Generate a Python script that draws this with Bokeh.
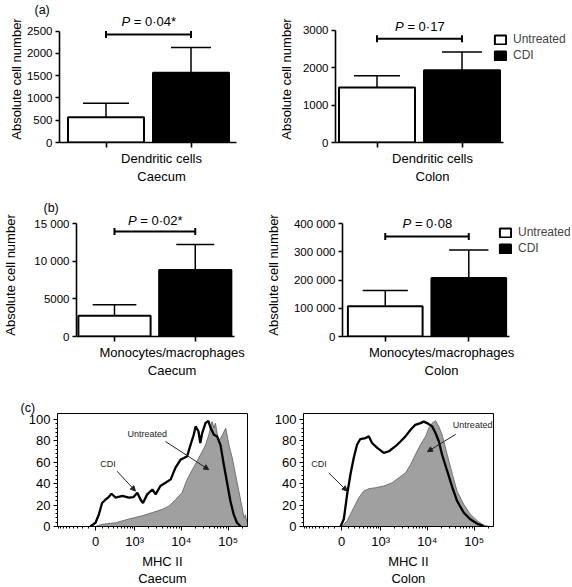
import numpy as np
from bokeh.plotting import figure
from bokeh.layouts import row, column
from bokeh.models import (Range1d, FixedTicker, CustomJSTickFormatter, Legend, LegendItem,
                          Arrow, NormalHead, Title)
from bokeh.core.properties import value
from bokeh.embed import file_html
from bokeh.resources import INLINE

FONT = "Liberation Sans"

# ---------------- data ----------------
groups = ["Untreated", "CDI"]
bar_colors = ["white", "black"]

dc_caecum_mean = [565, 1565]
dc_caecum_err = [315, 565]
dc_colon_mean = [1470, 1930]
dc_colon_err = [315, 490]
mm_caecum_mean = [2760, 8860]
mm_caecum_err = [1470, 3380]
mm_colon_mean = [107000, 208000]
mm_colon_err = [56000, 99000]

p_values = ["0·04*", "0·17", "0·02*", "0·08"]
cell_types = ["Dendritic cells", "Monocytes/macrophages"]
tissues = ["Caecum", "Colon"]
panel_tags = ["(a)", "(b)", "(c)"]

dc_caecum_ticks = [0, 500, 1000, 1500, 2000, 2500]
dc_caecum_ticklabels = ["0", "500", "1000", "1500", "2000", "2500"]
dc_colon_ticks = [0, 1000, 2000, 3000]
dc_colon_ticklabels = ["0", "1000", "2000", "3000"]
mm_caecum_ticks = [0, 5000, 10000, 15000]
mm_caecum_ticklabels = ["0", "5000", "10 000", "15 000"]
mm_colon_ticks = [0, 100000, 200000, 300000, 400000]
mm_colon_ticklabels = ["0", "100 000", "200 000", "300 000", "400 000"]

# MHC II histograms (x in logicle display units, y in % of max)
cae_cdi_x = [-0.11, 0.0, 0.07, 0.14, 0.21, 0.28, 0.34, 0.43, 0.57, 0.71, 0.81, 0.89, 0.96, 1.01,
             1.10, 1.21, 1.28, 1.38, 1.49, 1.60, 1.70, 1.81, 1.88, 1.95, 2.02, 2.09, 2.13, 2.19,
             2.23, 2.27, 2.34, 2.40, 2.45, 2.52, 2.59, 2.66, 2.73, 2.80, 2.87, 2.94, 3.01, 3.09]
cae_cdi_y = [0, 3.5, 11, 22, 25, 27.5, 30.6, 27, 28.5, 27, 27.5, 31.5, 25, 22,
             30, 34.6, 30, 37.8, 40.8, 44, 54.8, 62.5, 64, 65.6, 76, 85.7, 93.5, 89,
             78, 87.3, 96.5, 98.7, 92, 85.7, 84, 76, 57.8, 40.8, 23.8, 11.4, 3.5, 0]
cae_unt_x = [0.0, 0.14, 0.43, 0.71, 0.99, 1.21, 1.42, 1.56, 1.70, 1.84, 1.95, 2.06, 2.16, 2.27,
             2.34, 2.41, 2.48, 2.52, 2.55, 2.62, 2.70, 2.77, 2.84, 2.91, 2.98, 3.05, 3.12, 3.16,
             3.19, 3.23]
cae_unt_y = [0, 2, 3.5, 7, 10, 13, 16, 19, 25, 31.5, 44, 53, 61, 70,
             76, 85.5, 98, 92, 96.5, 79.5, 85.5, 92, 76, 64, 48.5, 33, 17.6, 8,
             11, 2]
col_cdi_x = [-0.02, 0.05, 0.12, 0.19, 0.26, 0.33, 0.40, 0.51, 0.58, 0.65, 0.76, 0.90, 1.01, 1.15,
             1.26, 1.36, 1.47, 1.57, 1.68, 1.75, 1.82, 1.93, 2.00, 2.07, 2.14, 2.25, 2.36, 2.46,
             2.60, 2.74, 2.89, 3.03]
col_cdi_y = [0, 7, 30, 48.6, 64, 76.4, 81.7, 82.6, 84.2, 78, 73.4, 68.7, 70.3, 75,
             79.6, 84.2, 90.3, 95, 96.6, 98, 96.6, 93.5, 87.3, 79.6, 67, 51.7, 36.2, 23.8,
             13, 6.8, 2.5, 0.3]
col_unt_x = [0.01, 0.12, 0.26, 0.37, 0.47, 0.58, 0.72, 0.90, 1.08, 1.22, 1.36, 1.47, 1.57, 1.68,
             1.79, 1.86, 1.93, 2.00, 2.07, 2.14, 2.25, 2.36, 2.46, 2.60, 2.74, 2.89, 3.03, 3.17]
col_unt_y = [0, 5.3, 17.6, 27, 33, 35.3, 36.2, 37.8, 40.9, 45.5, 50, 57.8, 67, 76.4,
             84.2, 92, 96.6, 98.7, 93.5, 85.7, 67, 48.6, 33, 20.7, 11.4, 5.3, 1, 0]

mhc_major_values = [0, 1e3, 1e4, 1e5]
mhc_major_labels = ["0", "10³", "10⁴", "10⁵"]
mhc_minor_values = ([-v for v in range(100, 1000, 100)] + list(range(100, 1000, 100)) +
                    list(range(2000, 10000, 1000)) + list(range(20000, 100000, 10000)) + [200000])
pct_ticks = [0, 20, 40, 60, 80, 100]
pct_minor = [v for v in range(0, 101, 4) if v % 20 != 0]

# ---------------- styling ----------------
BAR_TICK = "11.5px"
LABEL = 13
PSIZE = 13
LEG = "12px"

EM = {" ": 0.278, "/": 0.278, "C": 0.722, "D": 0.722, "H": 0.722, "I": 0.278, "M": 0.833,
      "P": 0.667, "a": 0.556, "c": 0.5, "d": 0.556, "e": 0.556, "g": 0.556, "h": 0.556,
      "i": 0.222, "l": 0.222, "m": 0.833, "n": 0.556, "o": 0.556, "p": 0.556, "r": 0.333,
      "s": 0.5, "t": 0.278, "u": 0.556, "y": 0.5, "=": 0.584, "·": 0.278, "*": 0.389,
      "(": 0.333, ")": 0.333}


def text_w(s, size):
    return sum(EM.get(c, 0.556) for c in s) * size


def label_formatter(pos, labels):
    return CustomJSTickFormatter(args=dict(pos=list(pos), labels=list(labels)), code="""
        for (let i = 0; i < pos.length; i++) { if (Math.abs(tick - pos[i]) < 1e-6) { return labels[i]; } }
        return '';""")


def base_fig(ox, oy, W, H, fl, fr, ft, fb, xr, yr):
    p = figure(width=W, height=H, x_range=xr, y_range=yr, output_backend="svg",
               toolbar_location=None, min_border_left=fl - ox, min_border_right=ox + W - fr,
               min_border_top=ft - oy, min_border_bottom=oy + H - fb)
    p.xgrid.visible = False
    p.ygrid.visible = False
    p.outline_line_color = None
    p.background_fill_color = "white"
    p.border_fill_color = "white"
    for ax in (p.xaxis[0], p.yaxis[0]):
        ax.major_label_text_font = FONT
        ax.axis_label_text_font = FONT
        ax.axis_label_text_font_style = "normal"
        ax.axis_label_text_font_size = f"{LABEL}px"
        ax.axis_label_text_color = "black"
        ax.major_label_text_color = "black"
        ax.axis_line_color = "black"
        ax.major_tick_line_color = "black"
        ax.minor_tick_line_color = None
        ax.major_tick_in = 0
        ax.major_tick_out = 4
        ax.major_label_standoff = 3
    return p


def add_tag(p, tag, fl_local, shift):
    p.title.text = tag
    p.title.align = "left"
    p.title.offset = 21 - fl_local + shift
    p.title.standoff = -2
    p.title.text_font = FONT
    p.title.text_font_size = "12.5px"
    p.title.text_font_style = "normal"
    p.title.text_color = "black"


def add_bottom_title(p, text, center_local, fl_local, standoff, shift):
    w = text_w(text, LABEL)
    t = Title(text=text, align="left", offset=center_local - w / 2 - fl_local + shift,
              standoff=standoff, text_font=FONT, text_font_size=f"{LABEL}px",
              text_font_style="normal", text_color="black")
    p.add_layout(t, "below")


def bar_panel(ox, oy, W, H, fl, fr, ft, fb, c0, unit, axis_end, top_px, ymax, yticks, ylabels,
              means, errs, pval, bracket_px, ptext_px, cell, tissue, ylab_standoff,
              title_standoffs, tag=None, legend_at=None):
    yper = ymax / (fb - top_px)
    xr = Range1d((fl - c0) / unit, (fr - c0) / unit)
    yr = Range1d(0, (fb - ft) * yper)
    p = base_fig(ox, oy, W, H, fl, fr, ft, fb, xr, yr)
    for ax in (p.xaxis[0], p.yaxis[0]):
        ax.axis_line_width = 1.6
        ax.major_tick_line_width = 1.6
    xs = list(range(len(groups)))
    r = p.vbar(x=xs, top=means, bottom=0, width=76 / unit, fill_color=bar_colors,
               line_color="black", line_width=2)
    tops = [m + e for m, e in zip(means, errs)]
    p.segment(x0=xs, y0=means, x1=xs, y1=tops, line_color="black", line_width=1.5)
    half = [23 / unit, 20 / unit]
    p.segment(x0=[x - h for x, h in zip(xs, half)], y0=tops,
              x1=[x + h for x, h in zip(xs, half)], y1=tops, line_color="black", line_width=1.5)
    # significance bracket
    yb = (fb - bracket_px) * yper
    dy = 3.5 * yper
    p.segment(x0=[xs[0], xs[0], xs[-1]], y0=[yb, yb - dy, yb - dy],
              x1=[xs[-1], xs[0], xs[-1]], y1=[yb, yb + dy, yb + dy],
              line_color="black", line_width=2)
    mid = (xs[0] + xs[-1]) / 2
    yt = (fb - ptext_px) * yper
    rest = "= " + pval
    wP = text_w("P", PSIZE)
    total = wP + text_w(" " + rest, PSIZE)
    p.text(x=[mid], y=[yt], text=["P"], x_offset=-total / 2, text_align="left",
           text_baseline="middle", text_font=value(FONT), text_font_size=f"{PSIZE}px",
           text_font_style="italic", text_color="black")
    p.text(x=[mid], y=[yt], text=[rest], x_offset=-total / 2 + wP + text_w(" ", PSIZE),
           text_align="left", text_baseline="middle", text_font=value(FONT),
           text_font_size=f"{PSIZE}px", text_color="black")
    # axes
    p.yaxis.bounds = (0, ymax)
    p.yaxis.ticker = FixedTicker(ticks=yticks)
    p.yaxis.formatter = label_formatter(yticks, ylabels)
    p.yaxis.major_label_text_font_size = BAR_TICK
    p.yaxis.axis_label = "Absolute cell number"
    p.yaxis.axis_label_standoff = ylab_standoff
    p.xaxis.bounds = (xr.start, (axis_end - c0) / unit)
    p.xaxis.ticker = FixedTicker(ticks=xs)
    p.xaxis.formatter = CustomJSTickFormatter(code="return '';")
    p.xaxis.major_label_text_font_size = "1px"
    p.xaxis.major_label_standoff = 0
    p.xaxis.major_tick_out = 5
    center_local = c0 + unit * mid - ox
    add_bottom_title(p, cell, center_local, fl - ox, title_standoffs[0], 13)
    add_bottom_title(p, tissue, center_local, fl - ox, title_standoffs[1], 13)
    if tag is not None:
        add_tag(p, tag, fl - ox, 13)
    if legend_at is not None:
        items = [LegendItem(label=g, renderers=[r], index=i) for i, g in enumerate(groups)]
        leg = Legend(items=items, location=legend_at, padding=0, margin=0, spacing=2,
                     glyph_width=14, glyph_height=11, label_height=12, label_standoff=6,
                     border_line_color=None, background_fill_alpha=0,
                     label_text_font=FONT, label_text_font_size=LEG,
                     label_text_baseline="middle")
        p.add_layout(leg)
    return p


def logicle(v):
    return float(np.arcsinh(v / 300.0) / np.log(10))


def hist_panel(ox, oy, W, H, fl, fr, ft, fb, zero_px, unt_x, unt_y, cdi_x, cdi_y, tissue,
               ann, label_center, tag=None):
    dec = 47.0
    xr = Range1d((fl - zero_px) / dec, (fr - zero_px) / dec)
    yr = Range1d(0, (fb - ft) / 108.0 * 100)
    p = base_fig(ox, oy, W, H, fl, fr, ft, fb, xr, yr)
    p.outline_line_color = "black"
    p.outline_line_width = 1
    p.varea(x=unt_x, y1=[0] * len(unt_y), y2=unt_y, fill_color="#a0a0a0")
    p.line(x=unt_x, y=unt_y, line_color="#6a6a6a", line_width=0.9)
    p.line(x=cdi_x, y=cdi_y, line_color="black", line_width=2.3)
    major = [logicle(v) for v in mhc_major_values]
    minor = [logicle(v) for v in mhc_minor_values]
    p.xaxis.ticker = FixedTicker(ticks=major, minor_ticks=minor)
    p.xaxis.formatter = label_formatter(major, mhc_major_labels)
    p.yaxis.ticker = FixedTicker(ticks=pct_ticks, minor_ticks=pct_minor)
    for ax in (p.xaxis[0], p.yaxis[0]):
        ax.major_label_text_font_size = "13px"
        ax.minor_tick_line_color = "black"
        ax.minor_tick_in = 0
        ax.minor_tick_out = 2
        ax.major_tick_out = 4
        ax.axis_line_width = 1
    for (tx, ty, t), (x0, y0, x1, y1) in ann:
        p.text(x=[tx], y=[ty], text=[t], text_align="center", text_baseline="middle",
               text_font=value(FONT), text_font_size="9px", text_color="#222222")
        p.add_layout(Arrow(x_start=x0, y_start=y0, x_end=x1, y_end=y1, line_width=1,
                           line_color="#222222",
                           end=NormalHead(size=5, fill_color="#222222", line_color="#222222")))
    center_local = zero_px + dec * label_center - ox
    add_bottom_title(p, "MHC II", center_local, fl - ox, 0, 2)
    add_bottom_title(p, tissue, center_local, fl - ox, 1, 2)
    if tag is not None:
        add_tag(p, tag, fl - ox, -1)
    return p


a1 = bar_panel(0, 0, 262, 186, 59, 247, 15, 142, 105.5, 85, 236, 30.5, 2500,
               dc_caecum_ticks, dc_caecum_ticklabels, dc_caecum_mean, dc_caecum_err,
               p_values[0], 34, 21, cell_types[0], tissues[0], 0, (2, 0), tag=panel_tags[0])
a2 = bar_panel(262, 0, 308, 186, 335, 570, 15, 142, 376.5, 85, 503, 29.7, 3000,
               dc_colon_ticks, dc_colon_ticklabels, dc_colon_mean, dc_colon_err,
               p_values[1], 38.3, 25.7, cell_types[0], tissues[1], 6, (2, 0),
               legend_at=(158, 80))
b1 = bar_panel(0, 186, 262, 194, 67, 247, 213, 336, 107, 85, 233, 223.3, 15000,
               mm_caecum_ticks, mm_caecum_ticklabels, mm_caecum_mean, mm_caecum_err,
               p_values[2], 231, 220, cell_types[1], tissues[0], 13, (2, 0),
               tag=panel_tags[1])
b2 = bar_panel(262, 186, 308, 194, 338, 570, 213, 336, 381.5, 85, 508, 223.3, 400000,
               mm_colon_ticks, mm_colon_ticklabels, mm_colon_mean, mm_colon_err,
               p_values[3], 236, 223.3, cell_types[1], tissues[1], 10, (2, 0),
               legend_at=(156, 81))

cae_ann = [((1.10, 86.1, "Untreated"), (1.49, 79.4, 2.41, 53.1)),
           ((0.266, 58.3, "CDI"), (0.46, 51.6, 0.85, 33.1))]
col_ann = [((2.79, 95.1, "Untreated"), (2.43, 86.1, 1.83, 69.9)),
           ((-0.48, 58.3, "CDI"), (-0.27, 50.0, 0.12, 33.1))]
c1 = hist_panel(0, 380, 262, 206, 57, 247, 413, 527, 95, cae_unt_x, cae_unt_y,
                cae_cdi_x, cae_cdi_y, tissues[0], cae_ann, 1.38, tag=panel_tags[2])
c2 = hist_panel(262, 380, 308, 206, 303, 493, 413, 527, 341, col_unt_x, col_unt_y,
                col_cdi_x, col_cdi_y, tissues[1], col_ann, 1.38)

p = column(row(a1, a2, spacing=0), row(b1, b2, spacing=0), row(c1, c2, spacing=0), spacing=0)
open("out.html", "w").write(file_html(p, INLINE))
